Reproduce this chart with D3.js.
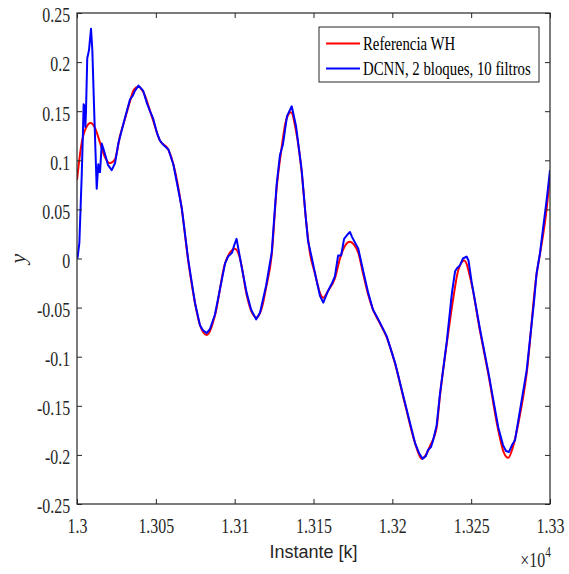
<!DOCTYPE html>
<html lang="en">
<head>
<meta charset="utf-8">
<script src="https://d3js.org/d3.v7.min.js"></script>
<style>
  body { margin: 0; background: #fff; }
</style>
</head>
<body>
<div id="my_dataviz"></div>
<script>

// Reference WH output (sample index k, value y)
var refK = [13000, 13003, 13005.7, 13008.7, 13011.4, 13014.6, 13017.8, 13020.9, 13024.1, 13027.3,
  13030.4, 13033.6, 13036.1, 13038.9, 13041.9, 13047.4, 13052.6, 13057.9, 13061.1, 13066.4,
  13070.6, 13074.8, 13078, 13082.3, 13087.5, 13093.9, 13097, 13100.2, 13103.4, 13107.6,
  13110.4, 13114, 13117.3, 13119.9, 13123.5, 13126.6, 13129.8, 13132.5, 13135.7, 13138.9,
  13142.5, 13145.2, 13147.8, 13150.9, 13154.1, 13156.2, 13159.2, 13163.6, 13166.8, 13170,
  13173.1, 13175.7, 13178.4, 13181.4, 13184.7, 13187.7, 13191.1, 13196.4, 13201.7, 13208,
  13214.4, 13218.6, 13221.3, 13223.9, 13228.1, 13230.2, 13234.5, 13238.7, 13241.8, 13245.6,
  13250.3, 13255.6, 13260.8, 13267.2, 13270.8, 13273.5, 13276.5, 13279.9, 13285.2, 13291.5,
  13293.6, 13297.9, 13300];
var refY = [0.080, 0.118, 0.133, 0.138, 0.133, 0.118, 0.103, 0.097, 0.101, 0.125,
  0.142, 0.160, 0.172, 0.175, 0.170, 0.145, 0.120, 0.111, 0.096, 0.051,
  -0.003, -0.045, -0.068, -0.078, -0.058, -0.005, 0.006, 0.010, 0.000, -0.037,
  -0.053, -0.060, -0.050, -0.030, 0.004, 0.071, 0.113, 0.140, 0.149, 0.130,
  0.088, 0.040, 0.005, -0.015, -0.035, -0.040, -0.033, -0.020, 0.000, 0.013,
  0.017, 0.014, 0.006, -0.015, -0.037, -0.052, -0.063, -0.080, -0.107, -0.148,
  -0.188, -0.204, -0.200, -0.191, -0.172, -0.140, -0.087, -0.040, -0.012, -0.002,
  -0.026, -0.074, -0.117, -0.175, -0.198, -0.203, -0.192, -0.168, -0.117, -0.016,
  0.004, 0.051, 0.085];

// DCNN prediction
var dcnnK = [13000.3, 13001.5, 13003, 13003.8, 13004.2, 13004.9, 13005.3, 13005.7, 13006.5, 13007.6,
  13008.9, 13009.7, 13011.1, 13012.5, 13013.5, 13014.1, 13014.6, 13015.7, 13017.1, 13019.7,
  13022, 13024.1, 13026.2, 13030.4, 13033.6, 13035.5, 13036.5, 13039, 13041.9, 13044.4,
  13046.3, 13048.2, 13050.7, 13052.6, 13055.2, 13058, 13061.1, 13066.4, 13070.6, 13074.8,
  13078, 13079.9, 13082.3, 13084.3, 13087.5, 13093.9, 13095.8, 13098.4, 13099.6, 13101.2,
  13102.8, 13104, 13107.6, 13110.4, 13113.6, 13116.1, 13119.9, 13123.5, 13126.6, 13128.7,
  13130.6, 13133.2, 13136.2, 13138.9, 13142.5, 13145.2, 13146.5, 13149, 13151.6, 13154.1,
  13156.2, 13159.2, 13161.8, 13163.6, 13165.6, 13167.5, 13169.4, 13171.9, 13173.1, 13174.4,
  13178.4, 13181.4, 13184.7, 13187.7, 13191.1, 13196.4, 13201.7, 13208, 13214.4, 13216.9,
  13219.2, 13221.3, 13222.6, 13224.5, 13225.7, 13228.1, 13230.2, 13234.5, 13237.8, 13239.8,
  13241, 13242.9, 13244.8, 13247.1, 13248.3, 13250.3, 13255.6, 13260.8, 13267.2, 13270.2,
  13272.1, 13274, 13275.9, 13277.8, 13279.9, 13285.2, 13289.8, 13291.5, 13293.6, 13297.9,
  13300];
var dcnnY = [0.000, 0.016, 0.085, 0.130, 0.157, 0.155, 0.134, 0.150, 0.204, 0.212,
  0.234, 0.213, 0.140, 0.071, 0.096, 0.088, 0.088, 0.117, 0.110, 0.095,
  0.090, 0.097, 0.117, 0.143, 0.162, 0.166, 0.170, 0.176, 0.171, 0.158,
  0.150, 0.143, 0.128, 0.120, 0.115, 0.111, 0.096, 0.052, -0.002, -0.045,
  -0.068, -0.073, -0.076, -0.072, -0.057, -0.005, 0.002, 0.006, 0.013, 0.020,
  0.006, -0.005, -0.035, -0.052, -0.062, -0.055, -0.028, 0.006, 0.075, 0.105,
  0.116, 0.145, 0.155, 0.135, 0.090, 0.040, 0.018, 0.000, -0.020, -0.038,
  -0.045, -0.033, -0.025, -0.018, 0.003, 0.003, 0.020, 0.025, 0.027, 0.022,
  0.010, -0.012, -0.035, -0.052, -0.062, -0.079, -0.106, -0.147, -0.188, -0.198,
  -0.204, -0.201, -0.195, -0.192, -0.186, -0.170, -0.138, -0.085, -0.035, -0.013,
  -0.010, -0.007, 0.000, 0.002, -0.002, -0.024, -0.072, -0.115, -0.172, -0.190,
  -0.196, -0.197, -0.190, -0.185, -0.165, -0.114, -0.045, -0.015, 0.005, 0.060,
  0.090];

var xTicks = [13000, 13050, 13100, 13150, 13200, 13250, 13300];
var xTickLabels = ["1.3", "1.305", "1.31", "1.315", "1.32", "1.325", "1.33"];
var yTicks = [-0.25, -0.2, -0.15, -0.1, -0.05, 0, 0.05, 0.1, 0.15, 0.2, 0.25];
var yTickLabels = ["-0.25", "-0.2", "-0.15", "-0.1", "-0.05", "0", "0.05", "0.1", "0.15", "0.2", "0.25"];
var seriesNames = ["Referencia WH", "DCNN, 2 bloques, 10 filtros"];
var seriesColors = ["#ff0000", "#0000ff"];

var W = 569, H = 574;
var margin = {top: 13, right: 19, bottom: 70, left: 77},
    width = W - margin.left - margin.right,
    height = H - margin.top - margin.bottom;

var svg = d3.select("#my_dataviz")
  .append("svg")
    .attr("width", W)
    .attr("height", H)
  .append("g")
    .attr("transform", "translate(" + margin.left + "," + margin.top + ")");

var x = d3.scaleLinear().domain([13000, 13300]).range([0, width]);
var y = d3.scaleLinear().domain([-0.25, 0.25]).range([height, 0]);

var serif = "'Liberation Serif', 'Times New Roman', serif";
var axisColor = "#262626";
var squeeze = 0.76;   // the serif text in the figure is horizontally condensed

// lines
var line = d3.line()
  .x(function(d) { return x(d[0]); })
  .y(function(d) { return y(d[1]); });

svg.append("clipPath").attr("id", "clip")
  .append("rect").attr("x", 0).attr("y", 0).attr("width", width).attr("height", height);

var ref = refK.map(function(k, i) { return [k, refY[i]]; });
var dcnn = dcnnK.map(function(k, i) { return [k, dcnnY[i]]; });

svg.append("path")
  .datum(ref)
  .attr("clip-path", "url(#clip)")
  .attr("fill", "none")
  .attr("stroke", seriesColors[0])
  .attr("stroke-width", 2)
  .attr("d", line.curve(d3.curveMonotoneX));

svg.append("path")
  .datum(dcnn)
  .attr("clip-path", "url(#clip)")
  .attr("fill", "none")
  .attr("stroke", seriesColors[1])
  .attr("stroke-width", 2)
  .attr("stroke-linejoin", "round")
  .attr("d", line.curve(d3.curveLinear));

// axes (MATLAB style: ticks inside, box on)
function styleAxis(g) {
  g.select(".domain").remove();
  g.selectAll(".tick line").attr("stroke", axisColor);
  g.selectAll(".tick text")
    .style("font-family", serif)
    .style("font-size", "21px")
    .attr("fill", axisColor)
    .attr("transform", "scale(" + squeeze + ",1)");
}

svg.append("g")
  .attr("transform", "translate(0," + height + ")")
  .call(d3.axisBottom(x).tickValues(xTicks).tickSize(-5).tickPadding(14)
    .tickFormat(function(d, i) { return xTickLabels[i]; }))
  .call(styleAxis);

svg.append("g")
  .call(d3.axisTop(x).tickValues(xTicks).tickSize(-5).tickFormat(""))
  .call(styleAxis);

svg.append("g")
  .call(d3.axisLeft(y).tickValues(yTicks).tickSize(-5).tickPadding(9)
    .tickFormat(function(d, i) { return yTickLabels[i]; }))
  .call(styleAxis)
  .selectAll(".tick text").attr("dy", "0.42em");

svg.append("g")
  .attr("transform", "translate(" + width + ",0)")
  .call(d3.axisRight(y).tickValues(yTicks).tickSize(-5).tickFormat(""))
  .call(styleAxis);

svg.append("rect")
  .attr("x", 0).attr("y", 0)
  .attr("width", width).attr("height", height)
  .attr("fill", "none")
  .attr("stroke", axisColor)
  .attr("stroke-width", 1.2);

// labels
svg.append("text")
  .attr("text-anchor", "middle")
  .attr("x", width / 2)
  .attr("y", height + 54)
  .style("font-family", "'Liberation Sans', Arial, sans-serif")
  .style("font-size", "18px")
  .attr("fill", axisColor)
  .text("Instante [k]");

svg.append("text")
  .attr("text-anchor", "middle")
  .attr("transform", "translate(" + (-52) + "," + (height / 2) + ") rotate(-90)")
  .style("font-family", serif)
  .style("font-style", "italic")
  .style("font-size", "22px")
  .attr("fill", axisColor)
  .text("y");

var expo = svg.append("text")
  .attr("text-anchor", "end")
  .attr("transform", "translate(" + (width + 1) + "," + (height + 63) + ") scale(" + squeeze + ",1)")
  .style("font-family", serif)
  .style("font-size", "21px")
  .attr("fill", axisColor);
expo.append("tspan").text("\u00d710");
expo.append("tspan").attr("dy", -10).style("font-size", "15px").text("4");

// legend
var lg = svg.append("g").attr("transform", "translate(" + (319 - margin.left) + "," + (27 - margin.top) + ")");
lg.append("rect")
  .attr("width", 220).attr("height", 55)
  .attr("fill", "#fff")
  .attr("stroke", axisColor)
  .attr("stroke-width", 1);
seriesNames.forEach(function(name, i) {
  var yy = 16.5 + i * 25;
  lg.append("line")
    .attr("x1", 7).attr("x2", 41).attr("y1", yy).attr("y2", yy)
    .attr("stroke", seriesColors[i]).attr("stroke-width", 2);
  lg.append("text")
    .attr("transform", "translate(44," + (yy + 6) + ") scale(" + squeeze + ",1)")
    .style("font-family", serif)
    .style("font-size", "19.5px")
    .attr("fill", "#000")
    .text(name);
});

</script>
</body>
</html>
